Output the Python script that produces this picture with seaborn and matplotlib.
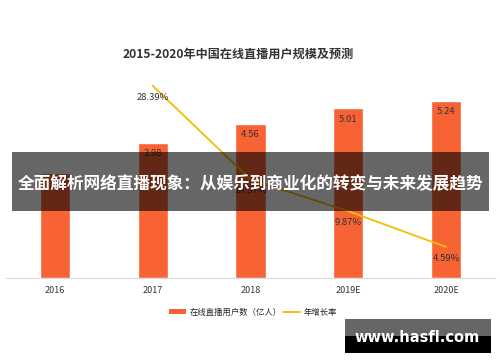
import numpy as np
import pandas as pd
import matplotlib
matplotlib.use("Agg")
import matplotlib.pyplot as plt
import seaborn as sns
from matplotlib.patches import Patch, Rectangle
from matplotlib.lines import Line2D

# Data
years = ["2016", "2017", "2018", "2019E", "2020E"]
users = [3.10, 3.98, 4.56, 5.01, 5.24]            # 在线直播用户数（亿人）
growth = [np.nan, 28.39, 14.57, 9.87, 4.59]        # 年增长率 (%)

title = "2015-2020年中国在线直播用户规模及预测"
bar_label = "在线直播用户数（亿人）"
line_label = "年增长率"
banner = "全面解析网络直播现象：从娱乐到商业化的转变与未来发展趋势"
watermark = "www.hasfl.com"

bar_color = "#F86335"
line_color = "#F2BE00"

sns.set_theme(style="white")
plt.rcParams["font.family"] = ["Noto Sans CJK SC", "DejaVu Sans"]

df = pd.DataFrame({"year": years, "users": users, "growth": growth})

fig = plt.figure(figsize=(5, 3.62), dpi=100)
ax = fig.add_axes([0.012, 0.232, 0.978, 0.561])

sns.barplot(data=df, x="year", y="users", color=bar_color, width=0.31,
            saturation=1, ax=ax)
ax.set_ylim(0, 6)
ax.set_xlim(-0.5, 4.5)
ax.set_xlabel("")
ax.set_ylabel("")
ax.set_yticks([])
for s in ["top", "left", "right"]:
    ax.spines[s].set_visible(False)
ax.spines["bottom"].set_color("#d9d9d9")
ax.spines["bottom"].set_linewidth(0.8)
ax.tick_params(axis="x", length=0, labelsize=6.5, colors="#333333", pad=6)

for i, v in enumerate(users):
    if i == 0:
        continue
    ax.text(i, v - 0.18, f"{v:.2f}", ha="center", va="top", fontsize=6.8, color="#333333")

# growth line on a secondary axis
ax2 = ax.twinx()
pos = np.arange(len(years))
line_df = pd.DataFrame({"pos": pos, "growth": growth}).dropna()
sns.lineplot(data=line_df, x="pos", y="growth", color=line_color, linewidth=1.3, ax=ax2)
ax2.set_ylim(0, 30)
ax2.set_yticks([])
ax2.set_ylabel("")
for s in ["top", "left", "right", "bottom"]:
    ax2.spines[s].set_visible(False)
for x, g in zip(line_df["pos"], line_df["growth"]):
    ax2.text(x, g - 1.0, f"{g:.2f}%", ha="center", va="top", fontsize=6.8, color="#333333")

fig.text(0.476, 0.851, title, ha="center", va="center", fontsize=8.7, fontweight="bold", color="#333333")

handles = [Patch(facecolor=bar_color, edgecolor="none"),
           Line2D([0], [0], color=line_color, linewidth=1.3)]
fig.legend(handles, [bar_label, line_label], loc="center", bbox_to_anchor=(0.506, 0.138),
           ncol=2, frameon=False, fontsize=6, handlelength=2.0, handleheight=0.6,
           columnspacing=0.2, handletextpad=0.4)

# dark banner overlay
fig.patches.append(Rectangle((0.024, 1 - 211 / 362), 0.954, 59 / 362, transform=fig.transFigure,
                             facecolor="black", alpha=0.6, edgecolor="none", zorder=10))
fig.text(0.5, 1 - 184 / 362, banner, ha="center", va="center", fontsize=12,
         fontweight="bold", color="white", zorder=11)

# watermark box
fig.patches.append(Rectangle((0.69, 1 - 336 / 362), 0.292, 17 / 362, transform=fig.transFigure,
                             facecolor="#666666", edgecolor="none", zorder=10))
fig.patches.append(Rectangle((0.69, 1 - 353 / 362), 0.292, 17 / 362, transform=fig.transFigure,
                             facecolor="black", edgecolor="none", zorder=10))
fig.text(0.835, 1 - 337 / 362, watermark, ha="center", va="center", fontsize=10.5,
         fontweight="bold", color="white", family=["DejaVu Sans"], zorder=11)

fig.savefig("out.png", dpi=100)
